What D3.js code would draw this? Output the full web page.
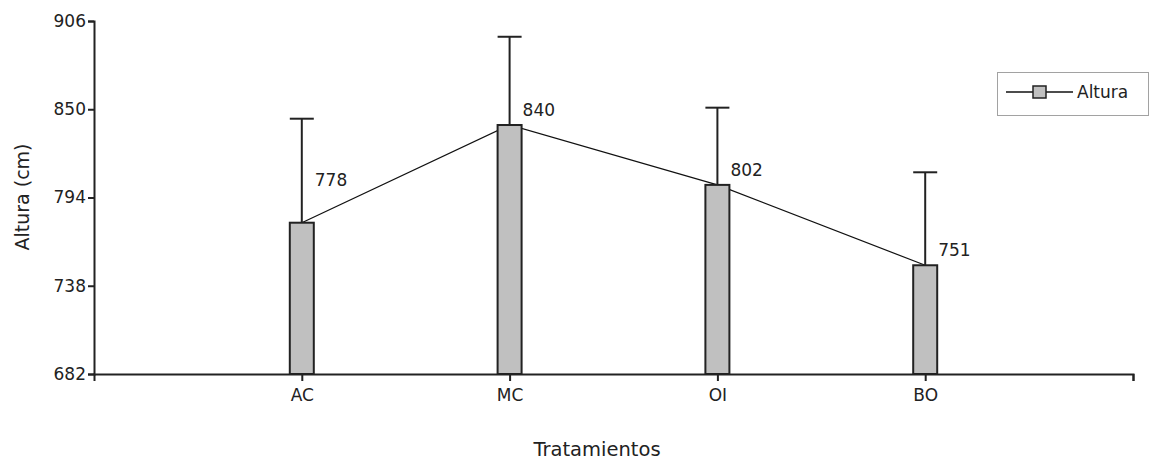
<!DOCTYPE html>
<html>
<head>
<meta charset="utf-8">
<script src="https://cdnjs.cloudflare.com/ajax/libs/d3/7.8.5/d3.min.js"></script>
<style>
  body { margin: 0; background: #fff; }
  svg text { font-family: "DejaVu Sans", sans-serif; fill: #222; }
</style>
</head>
<body>
<div id="chart"></div>
<script>
// data
var categories = ['AC', 'MC', 'OI', 'BO'];
var alturas = [778, 840, 802, 751];
var errores = [66, 56, 49, 59];
var yTicks = [682, 738, 794, 850, 906];

var width = 1152, height = 461;
var mLeft = 94, mRight = 1133, mTop = 21, mBottom = 374;

var svg = d3.select('#chart')
            .append('svg')
            .attr('width', width)
            .attr('height', height);

var x = d3.scaleLinear().domain([0, categories.length + 1]).range([mLeft, mRight]);
var y = d3.scaleLinear().domain([682, 906]).range([mBottom, mTop]);
var barW = 24;

// y axis
var yAxis = svg.append('g')
               .attr('transform', 'translate(' + mLeft + ',0)')
               .call(d3.axisLeft(y).tickValues(yTicks).tickSize(6).tickPadding(2).tickFormat(d3.format('d')));
yAxis.select('.domain').attr('stroke', '#222').attr('stroke-width', 2);
yAxis.selectAll('.tick line').attr('stroke', '#222').attr('stroke-width', 2);
yAxis.selectAll('.tick text').style('font-size', '17px').attr('fill', '#222');

// x axis
var xAxis = svg.append('g')
               .attr('transform', 'translate(0,' + mBottom + ')')
               .call(d3.axisBottom(x)
                       .tickValues(d3.range(1, categories.length + 2))
                       .tickSizeOuter(0)
                       .tickSize(7)
                       .tickPadding(8)
                       .tickFormat(function (d) { return categories[d - 1] || ''; }));
xAxis.select('.domain').attr('stroke', '#222').attr('stroke-width', 2);
xAxis.selectAll('.tick line').attr('stroke', '#222').attr('stroke-width', 2);
xAxis.selectAll('.tick text').style('font-size', '17px').attr('fill', '#222');
svg.selectAll('g').attr('font-family', null);

// connecting line (behind bars)
var line = d3.line()
             .x(function (d, i) { return x(i + 1); })
             .y(function (d) { return y(d); });
svg.append('path')
   .datum(alturas)
   .attr('d', line)
   .attr('fill', 'none')
   .attr('stroke', '#111')
   .attr('stroke-width', 1.2);

// error bars
var err = svg.append('g').attr('stroke', '#222').attr('stroke-width', 2);
alturas.forEach(function (v, i) {
	var cx = x(i + 1);
	err.append('line').attr('x1', cx).attr('x2', cx).attr('y1', y(v)).attr('y2', y(v + errores[i]));
	err.append('line').attr('x1', cx - barW / 2).attr('x2', cx + barW / 2)
	   .attr('y1', y(v + errores[i])).attr('y2', y(v + errores[i]));
});

// bars
svg.selectAll('rect.bar')
   .data(alturas)
   .enter()
   .append('rect')
   .attr('class', 'bar')
   .attr('x', function (d, i) { return x(i + 1) - barW / 2; })
   .attr('y', function (d) { return y(d); })
   .attr('width', barW)
   .attr('height', function (d) { return mBottom - y(d); })
   .attr('fill', '#c0c0c0')
   .attr('stroke', '#222')
   .attr('stroke-width', 2);

// value labels (first one sits higher, clear of the line)
svg.selectAll('text.val')
   .data(alturas)
   .enter()
   .append('text')
   .attr('class', 'val')
   .attr('x', function (d, i) { return x(i + 1) + 13; })
   .attr('y', function (d, i) { return y(d) - (i === 0 ? 37 : 9); })
   .style('font-size', '17px')
   .text(function (d) { return d; });

// axis titles
svg.append('text')
   .attr('transform', 'translate(22,197) rotate(-90)')
   .attr('text-anchor', 'middle')
   .attr('dy', '0.36em')
   .style('font-size', '19px')
   .text('Altura (cm)');
svg.append('text')
   .attr('x', 597)
   .attr('y', 456)
   .attr('text-anchor', 'middle')
   .style('font-size', '19.5px')
   .text('Tratamientos');

// legend
var lg = svg.append('g');
lg.append('rect')
  .attr('x', 997.5).attr('y', 72.5).attr('width', 151).attr('height', 43)
  .attr('fill', 'none').attr('stroke', '#444').attr('stroke-width', 1)
  .attr('stroke-dasharray', '1,1');
lg.append('line')
  .attr('x1', 1006).attr('x2', 1073).attr('y1', 92).attr('y2', 92)
  .attr('stroke', '#111').attr('stroke-width', 1.5);
lg.append('rect')
  .attr('x', 1033).attr('y', 86).attr('width', 13).attr('height', 12)
  .attr('fill', '#c0c0c0').attr('stroke', '#222').attr('stroke-width', 1.5);
lg.append('text')
  .attr('x', 1077).attr('y', 98)
  .style('font-size', '17px')
  .text('Altura');
</script>
</body>
</html>
